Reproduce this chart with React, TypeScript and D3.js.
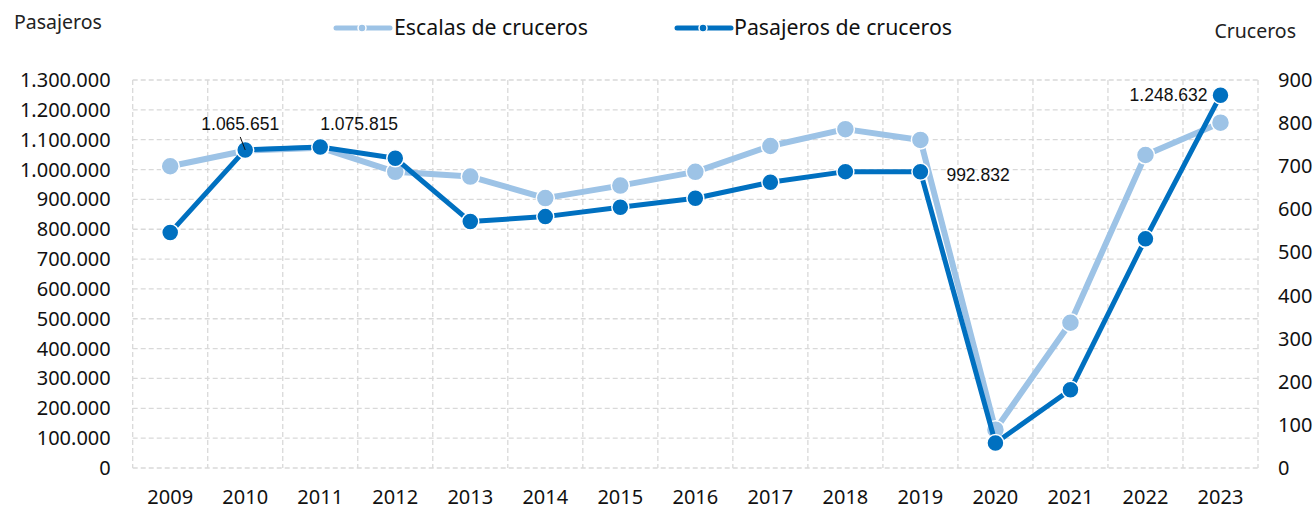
import React from 'react'
import * as d3 from 'd3'

const years = ['2009', '2010', '2011', '2012', '2013', '2014', '2015', '2016', '2017', '2018', '2019', '2020', '2021', '2022', '2023']
// Pasajeros de cruceros (eje izquierdo)
const pasajeros = [788800, 1065651, 1075815, 1037900, 825600, 842300, 873800, 903900, 957500, 993000, 992832, 83700, 262000, 767700, 1248632]
// Escalas de cruceros (eje derecho)
const escalas = [700, 736, 743, 687, 676, 626, 655, 687, 747, 786, 761, 89, 337, 726, 801]
const leftTicks = d3.range(0, 1300001, 100000)
const rightTicks = d3.range(0, 901, 100)
// etiquetas con valor: índice del año y alineación
const labelled = [
  { i: 1, anchor: 'middle' },
  { i: 2, anchor: 'start' },
  { i: 10, anchor: 'start' },
  { i: 14, anchor: 'end' }
]

const LIGHT = '#9DC3E6'
const DARK = '#0070C0'
const GRID = '#d9d9d9'
const FONT = '"Noto Sans", "Open Sans", sans-serif'

const fmt = (v: number) => d3.format(',')(v).replace(/,/g, '.')

export default function App() {
  const width = 1316
  const height = 510
  const margin = { top: 80, right: 58, bottom: 42, left: 132.7 }
  const innerW = width - margin.left - margin.right
  const innerH = height - margin.top - margin.bottom

  const x = d3.scaleBand().domain(years).range([0, innerW])
  const xc = (y: string) => (x(y) ?? 0) + x.bandwidth() / 2
  const yL = d3.scaleLinear().domain([0, 1300000]).range([innerH, 0])
  const yR = d3.scaleLinear().domain([0, 900]).range([innerH, 0])

  const lineL = d3.line<number>().x((_, i) => xc(years[i])).y((d) => yL(d))
  const lineR = d3.line<number>().x((_, i) => xc(years[i])).y((d) => yR(d))

  const labelPos = (i: number) => {
    const cx = xc(years[i])
    const cy = yL(pasajeros[i])
    if (i === 1) return { x: cx - 5, y: cy - 20 }
    if (i === 2) return { x: cx, y: cy - 17 }
    if (i === 10) return { x: cx + 26, y: cy + 9 }
    return { x: cx - 13, y: cy + 6 }
  }

  return (
    <svg width={width} height={height} style={{ position: 'absolute', left: 0, top: 0, background: '#fff' }}>
      <text x={14} y={29} fontFamily={FONT} fontSize={19.5} fill="#222">Pasajeros</text>
      <text x={1296} y={38} textAnchor="end" fontFamily={FONT} fontSize={19.5} fill="#222">Cruceros</text>

      {/* leyenda */}
      <g fontFamily={FONT} fontSize={21.3} fill="#111">
        <line x1={336} x2={390} y1={28} y2={28} stroke={LIGHT} strokeWidth={5} strokeLinecap="round" />
        <circle cx={362} cy={28} r={4} fill={LIGHT} stroke="#fff" strokeWidth={1.5} />
        <text x={394} y={35}>Escalas de cruceros</text>
        <line x1={677} x2={731} y1={28} y2={28} stroke={DARK} strokeWidth={5} strokeLinecap="round" />
        <circle cx={703} cy={28} r={4} fill={DARK} stroke="#fff" strokeWidth={1.5} />
        <text x={734} y={35}>Pasajeros de cruceros</text>
      </g>

      <g transform={`translate(${margin.left},${margin.top})`}>
        {/* rejilla */}
        {leftTicks.map((t) => (
          <line key={'h' + t} x1={0} x2={innerW} y1={yL(t)} y2={yL(t)} stroke={GRID} strokeWidth={1.3} strokeDasharray="5,3" />
        ))}
        {years.map((y) => (
          <line key={'v' + y} x1={x(y)} x2={x(y)} y1={0} y2={innerH} stroke={GRID} strokeWidth={1.3} strokeDasharray="5,3" />
        ))}
        <line x1={innerW} x2={innerW} y1={0} y2={innerH} stroke={GRID} strokeWidth={1.3} strokeDasharray="5,3" />

        {/* ejes */}
        <g fontFamily={FONT} fontSize={20} fill="#111">
          {leftTicks.map((t) => (
            <text key={'l' + t} x={-22} y={yL(t)} dy="0.35em" textAnchor="end">{fmt(t)}</text>
          ))}
          {rightTicks.map((t) => (
            <text key={'r' + t} x={innerW + 20} y={yR(t)} dy="0.35em" textAnchor="start">{t}</text>
          ))}
          {years.map((y) => (
            <text key={'x' + y} x={xc(y)} y={innerH + 36} textAnchor="middle">{y}</text>
          ))}
        </g>

        {/* escalas */}
        <path d={lineR(escalas) ?? ''} fill="none" stroke={LIGHT} strokeWidth={6} strokeLinejoin="round" />
        {escalas.map((d, i) => (
          <circle key={'e' + i} cx={xc(years[i])} cy={yR(d)} r={9} fill={LIGHT} stroke="#fff" strokeWidth={1.5} />
        ))}

        {/* pasajeros */}
        <path d={lineL(pasajeros) ?? ''} fill="none" stroke={DARK} strokeWidth={5} strokeLinejoin="round" />
        {pasajeros.map((d, i) => (
          <circle key={'p' + i} cx={xc(years[i])} cy={yL(d)} r={8.5} fill={DARK} stroke="#fff" strokeWidth={1.5} />
        ))}

        {/* etiquetas de datos */}
        <line x1={xc(years[1]) - 5} x2={xc(years[1])} y1={yL(pasajeros[1]) - 13} y2={yL(pasajeros[1])} stroke="#111" strokeWidth={1} />
        <g fontFamily='"Liberation Sans", Arial, sans-serif' fontSize={17.5} fill="#111">
          {labelled.map(({ i, anchor }) => {
            const p = labelPos(i)
            return (
              <text key={'lab' + i} x={p.x} y={p.y} textAnchor={anchor as any}>{fmt(pasajeros[i])}</text>
            )
          })}
        </g>
      </g>
    </svg>
  )
}
